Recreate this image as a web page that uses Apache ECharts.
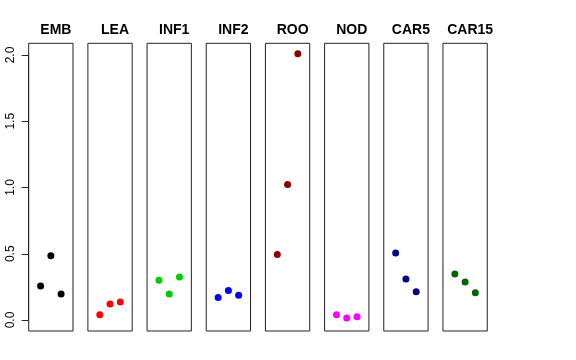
<!DOCTYPE html>
<html><head><meta charset="utf-8">
<script src="https://cdn.jsdelivr.net/npm/echarts@6/dist/echarts.min.js"></script>
<style>html,body{margin:0;padding:0;background:#fff}#c{width:576px;height:360px}</style>
</head><body><div id="c"></div>
<script>
const panels = ['EMB','LEA','INF1','INF2','ROO','NOD','CAR5','CAR15'];
const colors = ['#000000','#FF0000','#00CD00','#0000FF','#8B0000','#FF00FF','#00008B','#006400'];
const xPos = [1, 2, 3];
const EMB = [0.256, 0.485, 0.196];
const LEA = [0.040, 0.120, 0.136];
const INF1 = [0.300, 0.196, 0.324];
const INF2 = [0.170, 0.223, 0.186];
const ROO = [0.495, 1.022, 2.010];
const NOD = [0.040, 0.015, 0.025];
const CAR5 = [0.505, 0.309, 0.213];
const CAR15 = [0.347, 0.286, 0.206];
const values = [EMB, LEA, INF1, INF2, ROO, NOD, CAR5, CAR15];
const yTicks = [0, 0.5, 1, 1.5, 2];

const L0 = 28.7, STEP = 59.18, W = 44.3, TOP = 43.3, BOT = 360 - 331;
const grids = [], xAxes = [], yAxes = [], series = [], titles = [];
panels.forEach((p, i) => {
  const left = L0 + i * STEP;
  grids.push({left: left, width: W, top: TOP, bottom: BOT, show: true, borderColor: '#222', borderWidth: 1, backgroundColor: 'transparent'});
  xAxes.push({gridIndex: i, type: 'value', min: -0.16, max: 4.16, show: false});
  yAxes.push({gridIndex: i, type: 'value', min: -0.083, max: 2.088, show: false});
  series.push({type: 'scatter', xAxisIndex: i, yAxisIndex: i, symbol: 'circle', symbolSize: 7,
    itemStyle: {color: colors[i], opacity: 1}, data: xPos.map((x, k) => [x, values[i][k]]), silent: true});
  titles.push({text: p, left: left + W / 2, top: 18, textAlign: 'center',
    textStyle: {fontFamily: 'Liberation Sans', fontWeight: 'bold', fontSize: 14, color: '#000'}});
});
// axis grid for the visible y axis (0 .. 2.0)
grids.push({left: L0, width: W, top: 55, bottom: 360 - 320, show: false});
xAxes.push({gridIndex: 8, type: 'value', show: false, min: 0, max: 1});
yAxes.push({gridIndex: 8, type: 'value', min: 0, max: 2, interval: 0.5,
  axisLine: {show: true, lineStyle: {color: '#222', width: 1}},
  axisTick: {show: true, length: 7, lineStyle: {color: '#222'}},
  splitLine: {show: false},
  axisLabel: {rotate: 90, margin: 12, fontFamily: 'Liberation Sans', fontSize: 12, color: '#000',
    formatter: v => yTicks.includes(v) ? v.toFixed(1) : ''}});

const chart = echarts.init(document.getElementById('c'), null, {renderer: 'canvas'});
chart.setOption({animation: false, backgroundColor: '#fff', title: titles, grid: grids, xAxis: xAxes, yAxis: yAxes, series: series});
</script></body></html>
